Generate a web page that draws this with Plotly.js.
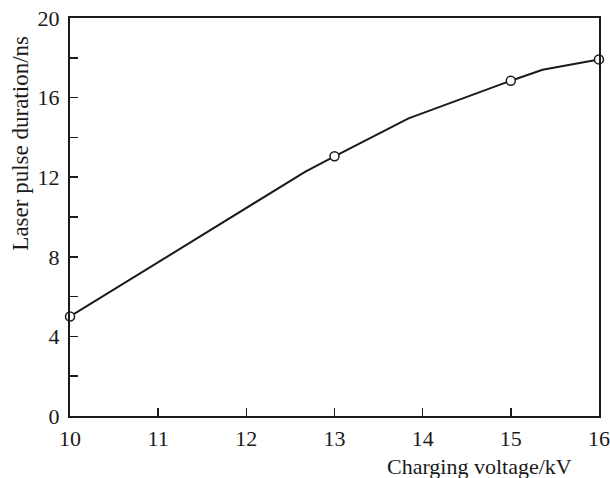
<!DOCTYPE html>
<html>
<head>
<meta charset="utf-8">
<script src="https://cdn.plot.ly/plotly-3.0.1.min.js"></script>
<style>html,body{margin:0;padding:0;background:#fff;}#chart{width:610px;height:478px;}</style>
</head>
<body>
<div id="chart"></div>
<script>
// Curve vertices (kV, ns)
const curveVoltage = [10, 12.67, 13, 13.84, 15, 15.36, 16];
const curveDuration = [5, 12.28, 13.05, 14.96, 16.85, 17.4, 17.92];
// Measured points (open circles)
const pointVoltage = [10, 13, 15, 16];
const pointDuration = [5, 13.05, 16.85, 17.92];
const xTickValues = [10, 11, 12, 13, 14, 15, 16];
const yTickValues = [0, 4, 8, 12, 16, 20];
const xTitle = 'Charging voltage/kV';
const yTitle = 'Laser pulse duration/ns';

const font = 'Liberation Serif, Times New Roman, serif';
const ink = '#1a1a1a';

const traces = [
  {x: curveVoltage, y: curveDuration, mode: 'lines', type: 'scatter',
   line: {color: ink, width: 2}, hoverinfo: 'skip', showlegend: false, cliponaxis: false},
  {x: pointVoltage, y: pointDuration, mode: 'markers', type: 'scatter',
   marker: {symbol: 'circle', size: 9, color: '#fff', line: {color: ink, width: 1.5}},
   cliponaxis: false, showlegend: false}
];

const layout = {
  width: 610, height: 478,
  margin: {l: 70, r: 11, t: 18, b: 62},
  paper_bgcolor: '#fff', plot_bgcolor: '#fff',
  font: {family: font, size: 22, color: ink},
  showlegend: false,
  xaxis: {
    range: [9.9995, 16.0005], tickvals: xTickValues, ticktext: xTickValues.map(String),
    ticks: 'inside', ticklen: 8, tickwidth: 1.5, tickcolor: ink,
    showline: true, linecolor: ink, linewidth: 2, mirror: true,
    showgrid: false, zeroline: false, ticklabelstandoff: 2,
    ticklabeloverflow: 'allow',
    tickfont: {family: font, size: 22, color: ink}
  },
  yaxis: {
    range: [-0.001, 20.001], tickvals: yTickValues, ticktext: yTickValues.map(String),
    ticks: 'inside', ticklen: 8, tickwidth: 1.5, tickcolor: ink,
    minor: {dtick: 2, ticks: 'inside', ticklen: 8, tickwidth: 1.5, tickcolor: ink, showgrid: false},
    showline: true, linecolor: ink, linewidth: 2, mirror: true,
    showgrid: false, zeroline: false, ticklabelstandoff: 4,
    ticklabeloverflow: 'allow',
    tickfont: {family: font, size: 22, color: ink}
  },
  annotations: [
    {text: xTitle, xref: 'paper', yref: 'paper', x: 0.952, y: -0.128,
     xanchor: 'right', yanchor: 'middle', showarrow: false,
     font: {family: font, size: 22, color: ink}},
    {text: yTitle, xref: 'paper', yref: 'paper', x: -0.094, y: 0.685,
     xanchor: 'center', yanchor: 'middle', textangle: -90, showarrow: false,
     font: {family: font, size: 23, color: ink}}
  ]
};

Plotly.newPlot('chart', traces, layout, {displayModeBar: false, staticPlot: true});
</script>
</body>
</html>
